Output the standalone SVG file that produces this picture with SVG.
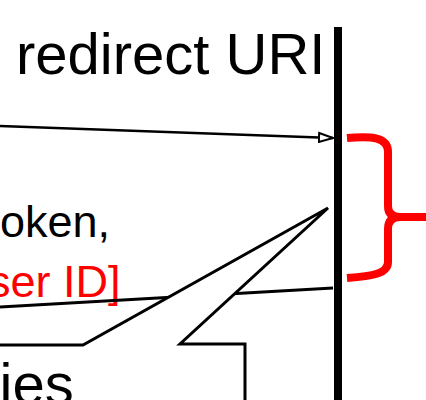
<svg xmlns="http://www.w3.org/2000/svg" width="426" height="400" viewBox="0 0 426 400">
<defs>
<style>
.t{font-family:"Liberation Sans",Arial,sans-serif;}
.ln{stroke:#000;fill:none;}
</style>
<marker id="ah" viewBox="0 0 16 12" refX="15" refY="6" markerUnits="userSpaceOnUse" markerWidth="16" markerHeight="12" orient="auto">
<path d="M1,1.5 L15,6 L1,10.5 Z" fill="#fff" stroke="#000" stroke-width="2"/>
</marker>
</defs>
<rect width="426" height="400" fill="#fff"/>
<g id="title"><text class="t" x="16" y="74" font-size="58" fill="#000">redirect URI</text></g>
<g id="lifeline"><line x1="338" y1="27" x2="338" y2="400" stroke="#000" stroke-width="8"/></g>
<g id="labels">
<text class="t" x="0" y="237" font-size="45" fill="#000">oken,</text>
<text class="t" x="-12" y="297" font-size="45" fill="#f00">ser ID]</text>
</g>
<g id="connectors">
<line class="ln" x1="0" y1="126" x2="333" y2="138" stroke-width="2.5" marker-end="url(#ah)"/>
<line class="ln" x1="333" y1="288" x2="0" y2="307" stroke-width="3"/>
</g>
<g id="brace"><path d="M347,138 C372,136 388,137 388,152 L388,206 Q388,217 400,217 L426,217 M400,217 Q388,217 388,229 L388,262 C388,274 372,276 347,278" fill="none" stroke="#f00" stroke-width="8" stroke-linejoin="round"/></g>
<g id="callout">
<path d="M-5,345 L83,345 L328,208 L180,344 L245,344 L245,405 L-5,405 Z" fill="#fff" stroke="#000" stroke-width="3" stroke-linejoin="miter"/>
<text class="t" x="-16.5" y="403.5" font-size="58" fill="#000">fies</text>
</g>
</svg>
